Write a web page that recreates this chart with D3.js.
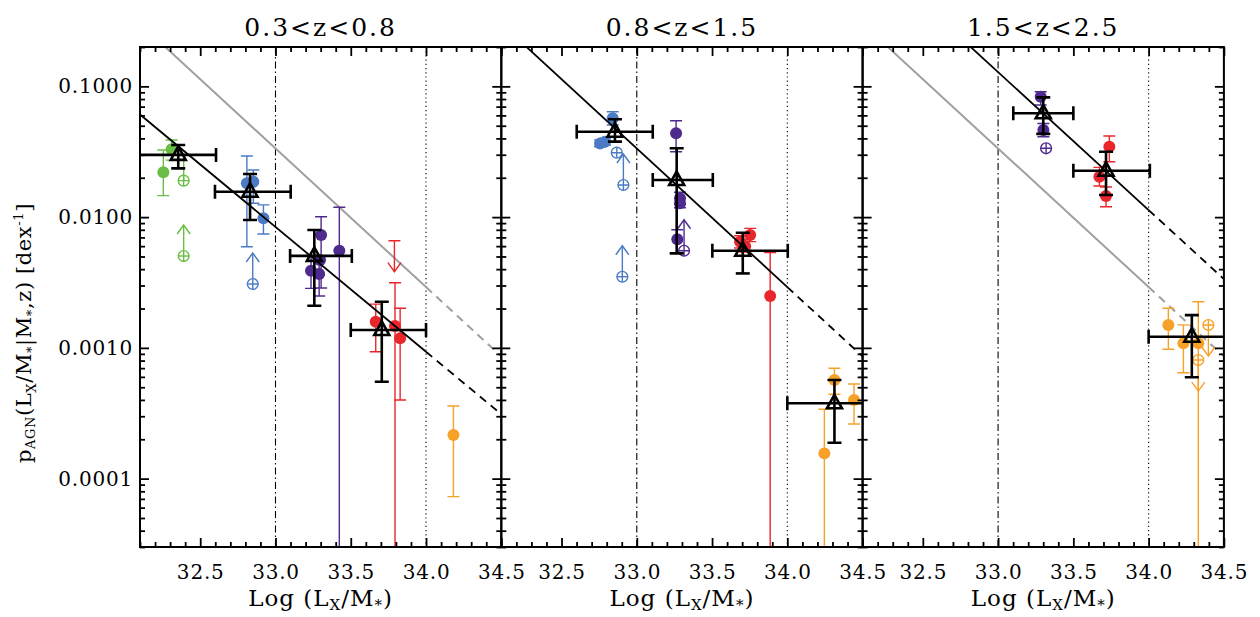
<!DOCTYPE html>
<html>
<head>
<meta charset="utf-8">
<script src="https://cdn.jsdelivr.net/npm/d3@7"></script>
<style>
  body { margin: 0; background: #fff; }
  text { font-family: "DejaVu Serif", serif; fill: #000; }
</style>
</head>
<body>
<svg id="chart" width="1260" height="617"></svg>
<script>
// ---- data ----
const panelTitles = ["0.3<z<0.8", "0.8<z<1.5", "1.5<z<2.5"];
const xTickValues = [32.5, 33.0, 33.5, 34.0, 34.5];
const yTickValues = [0.0001, 0.001, 0.01, 0.1];
const refLines = [33.0, 34.0];          // dash-dot, dotted

// power-law fits: log p = norm + slope*(Log(Lx/M*) - 34)
const fitNorm = [-3.03, -2.535, -1.946];
const fitSlope = [-0.955, -1.06, -1.055];
const refFit = 1;                        // middle-panel fit repeated in grey

// binned estimates: [x, xlo, xhi, p, plo, phi]
const binsLowZ = [
  [32.354, 32.08, 32.605, 0.0299, 0.0236, 0.0356],
  [32.831, 32.598, 33.101, 0.01564, 0.00951, 0.02138],
  [33.258, 33.097, 33.507, 0.00505, 0.0021, 0.00796],
  [33.706, 33.5, 34.0, 0.00137, 0.000551, 0.002254]
];
const binsMidZ = [
  [32.855, 32.601, 33.106, 0.0450, 0.0378, 0.0560],
  [33.265, 33.106, 33.505, 0.01922, 0.00528, 0.0336],
  [33.704, 33.502, 34.003, 0.00553, 0.00371, 0.0076],
  [34.313, 34.0, 34.6, 0.000377, 0.000188, 0.000568]
];
const binsHighZ = [
  [33.3, 33.101, 33.5, 0.0622, 0.0433, 0.0824],
  [33.717, 33.5, 34.008, 0.02265, 0.01476, 0.0316],
  [34.287, 34.0, 34.6, 0.001217, 0.000596, 0.00178]
];

// mass-bin points: [x, p, plo, phi, kind]
// kind: d = detection, o = open, L = lower limit, U = upper limit (open), u = upper limit bar
const green1 = [
  [32.31, 0.0330, 0.0273, 0.0389, "d"],
  [32.255, 0.0220, 0.0146, 0.0326, "d"],
  [32.39, 0.0190, 0.0190, 0.0300, "o"],
  [32.39, 0.00504, 0.00504, 0.00504, "L"]
];
const blue1 = [
  [32.81, 0.01815, 0.00594, 0.0293, "d"],
  [32.853, 0.01866, 0.01277, 0.0229, "d"],
  [32.92, 0.0098, 0.00743, 0.0124, "d"],
  [32.849, 0.00308, 0.00308, 0.00308, "L"]
];
const purple1 = [
  [33.303, 0.0073, 0.00287, 0.01007, "d"],
  [33.424, 0.00553, 1e-6, 0.0119, "d"],
  [33.296, 0.0047, 0.0047, 0.0047, "d"],
  [33.236, 0.00389, 0.00285, 0.0051, "d"],
  [33.29, 0.00367, 0.00249, 0.0047, "d"]
];
const red1 = [
  [33.666, 0.001585, 0.000935, 0.00216, "d"],
  [33.794, 0.001469, 1e-6, 0.00315, "d"],
  [33.828, 0.001183, 0.000399, 0.00201, "d"],
  [33.79, 0.0066, 0.0066, 0.0066, "u"]
];
const orange1 = [
  [34.182, 0.000216, 0.0000728, 0.000359, "d"]
];
const blue2 = [
  [32.84, 0.0570, 0.0506, 0.0640, "d"],
  [32.789, 0.03774, 0.0356, 0.0400, "d"],
  [32.756, 0.0366, 0.0345, 0.0390, "d"],
  [32.867, 0.0311, 0.0311, 0.0311, "o"],
  [32.911, 0.0176, 0.0176, 0.0176, "L"],
  [32.904, 0.0035, 0.0035, 0.0035, "L"]
];
const purple2 = [
  [33.261, 0.04375, 0.0316, 0.0546, "d"],
  [33.287, 0.01393, 0.0125, 0.0155, "d"],
  [33.287, 0.01274, 0.0118, 0.0140, "d"],
  [33.269, 0.00676, 0.00528, 0.0080, "d"],
  [33.314, 0.00553, 0.00553, 0.00553, "L"]
];
const red2 = [
  [33.753, 0.00729, 0.0065, 0.0082, "d"],
  [33.686, 0.00648, 0.0058, 0.0072, "d"],
  [33.72, 0.0060, 0.0054, 0.0067, "d"],
  [33.886, 0.00249, 1e-6, 0.00535, "d"]
];
const orange2 = [
  [34.313, 0.000568, 0.000442, 0.000698, "d"],
  [34.443, 0.000399, 0.000262, 0.00053, "d"],
  [34.246, 0.000156, 1e-6, 0.000339, "d"]
];
const purple3 = [
  [33.283, 0.0834, 0.072, 0.0910, "d"],
  [33.301, 0.0464, 0.0412, 0.052, "d"],
  [33.319, 0.0336, 0.0336, 0.0336, "o"]
];
const red3 = [
  [33.739, 0.03455, 0.0265, 0.0417, "d"],
  [33.673, 0.02037, 0.0173, 0.0240, "d"],
  [33.717, 0.0145, 0.0120, 0.0170, "d"]
];
const orange3 = [
  [34.131, 0.001496, 0.000975, 0.00201, "d"],
  [34.231, 0.001084, 0.000646, 0.0015, "d"],
  [34.33, 0.001084, 1e-6, 0.002254, "d"],
  [34.397, 0.001496, 0.001496, 0.001496, "U"],
  [34.33, 0.000807, 0.000807, 0.000807, "U"]
];

const colors = {
  green: "#6abd45", blue: "#4a7bc4", purple: "#4f2a8e",
  red: "#e8262b", orange: "#f7a128"
};

const panels = [
  { bins: binsLowZ, samples: [["green", green1], ["blue", blue1], ["purple", purple1], ["red", red1], ["orange", orange1]] },
  { bins: binsMidZ, samples: [["blue", blue2], ["purple", purple2], ["red", red2], ["orange", orange2]] },
  { bins: binsHighZ, samples: [["purple", purple3], ["red", red3], ["orange", orange3]] }
];

// ---- layout ----
const mLeft = 140, mTop = 47, pw = 361.3, ph = 500;

const x = d3.scaleLinear().domain([32.1, 34.5]).range([0, pw]);
const y = d3.scaleLog().domain([3e-5, 0.2]).range([ph, 0]);

const svg = d3.select("#chart");

const xMajor = xTickValues;
const xMinor = x.ticks(24).filter(v => Math.abs(v * 2 - Math.round(v * 2)) > 1e-6);
const yMinor = y.ticks().filter(v => Math.abs(Math.log10(v) - Math.round(Math.log10(v))) > 1e-6);

const fitP = (k, lx) => Math.pow(10, fitNorm[k] + fitSlope[k] * (lx - 34));

function drawFit(g, k, color, width) {
  const line = d3.line().x(d => x(d)).y(d => y(fitP(k, d)));
  g.append("path").attr("d", line([32.1, 34.0]))
    .attr("fill", "none").attr("stroke", color).attr("stroke-width", width);
  g.append("path").attr("d", line([34.0, 34.5]))
    .attr("fill", "none").attr("stroke", color).attr("stroke-width", width)
    .attr("stroke-dasharray", "8,6");
}

function chevron(g, cx, cy, dir) {
  // dir = -1 points up, +1 points down
  g.append("path")
    .attr("d", `M${cx - 6.5},${cy - dir * 9}L${cx},${cy}L${cx + 6.5},${cy - dir * 9}`);
}

function drawSample(g, rows, color) {
  rows.forEach(r => {
    const [lx, p, lo, hi, kind] = r;
    const cx = x(lx), cy = y(p);
    const s = g.append("g").attr("stroke", color).attr("fill", "none").attr("stroke-width", 1.4);
    if (lo < hi) {
      s.append("line").attr("x1", cx).attr("x2", cx).attr("y1", y(lo)).attr("y2", y(hi));
      if (hi > p) s.append("line").attr("x1", cx - 6).attr("x2", cx + 6).attr("y1", y(hi)).attr("y2", y(hi));
      if (lo < p) s.append("line").attr("x1", cx - 6).attr("x2", cx + 6).attr("y1", y(lo)).attr("y2", y(lo));
    }
    if (kind === "d") {
      s.append("circle").attr("cx", cx).attr("cy", cy).attr("r", 6)
        .attr("fill", color).attr("stroke", "none");
    }
    if (kind === "o" || kind === "L" || kind === "U") {
      s.append("circle").attr("cx", cx).attr("cy", cy).attr("r", 5.4);
      s.append("line").attr("x1", cx - 5.4).attr("x2", cx + 5.4).attr("y1", cy).attr("y2", cy);
      s.append("line").attr("x1", cx).attr("x2", cx).attr("y1", cy - 5.4).attr("y2", cy + 5.4);
    }
    if (kind === "L") {
      s.append("line").attr("x1", cx).attr("x2", cx).attr("y1", cy - 5.4).attr("y2", cy - 31);
      chevron(s, cx, cy - 31, -1);
    }
    if (kind === "U") {
      s.append("line").attr("x1", cx).attr("x2", cx).attr("y1", cy + 5.4).attr("y2", cy + 31);
      chevron(s, cx, cy + 31, 1);
    }
    if (kind === "u") {
      s.append("line").attr("x1", cx - 6).attr("x2", cx + 6).attr("y1", cy).attr("y2", cy);
      s.append("line").attr("x1", cx).attr("x2", cx).attr("y1", cy).attr("y2", cy + 31);
      chevron(s, cx, cy + 31, 1);
    }
  });
}

function drawBins(g, rows) {
  rows.forEach(([lx, xlo, xhi, p, plo, phi]) => {
    const b = g.append("g").attr("stroke", "#000").attr("stroke-width", 2.6).attr("fill", "none");
    const cx = x(lx), cy = y(p);
    b.append("line").attr("x1", x(xlo)).attr("x2", x(xhi)).attr("y1", cy).attr("y2", cy);
    b.append("line").attr("x1", x(xlo)).attr("x2", x(xlo)).attr("y1", cy - 7).attr("y2", cy + 7);
    b.append("line").attr("x1", x(xhi)).attr("x2", x(xhi)).attr("y1", cy - 7).attr("y2", cy + 7);
    b.append("line").attr("x1", cx).attr("x2", cx).attr("y1", y(plo)).attr("y2", y(phi));
    b.append("line").attr("x1", cx - 7).attr("x2", cx + 7).attr("y1", y(plo)).attr("y2", y(plo));
    b.append("line").attr("x1", cx - 7).attr("x2", cx + 7).attr("y1", y(phi)).attr("y2", y(phi));
    b.append("path").attr("d", `M${cx},${cy - 8.5}L${cx + 7.5},${cy + 5}L${cx - 7.5},${cy + 5}Z`);
  });
}

function styleAxis(sel) {
  sel.select(".domain").remove();
  sel.selectAll(".tick line").attr("stroke", "#000").attr("stroke-width", 1.8);
  sel.attr("font-family", null).attr("font-size", null);
  sel.selectAll("text").attr("font-size", 20).attr("letter-spacing", 0.8).attr("fill", "#000");
}

panels.forEach((panel, i) => {
  const g = svg.append("g").attr("transform", `translate(${mLeft + i * pw},${mTop})`);

  svg.append("clipPath").attr("id", "clip" + i)
    .append("rect").attr("width", pw).attr("height", ph);
  const body = g.append("g").attr("clip-path", `url(#clip${i})`);

  // reference verticals
  body.append("line").attr("x1", x(refLines[0])).attr("x2", x(refLines[0]))
    .attr("y1", 0).attr("y2", ph).attr("stroke", "#000").attr("stroke-width", 1.1)
    .attr("stroke-dasharray", "7,3,1.5,3");
  body.append("line").attr("x1", x(refLines[1])).attr("x2", x(refLines[1]))
    .attr("y1", 0).attr("y2", ph).attr("stroke", "#000").attr("stroke-width", 1.1)
    .attr("stroke-dasharray", "1.2,3");

  if (i !== refFit) drawFit(body, refFit, "#a0a0a0", 2);

  panel.samples.forEach(([key, rows]) => drawSample(body, rows, colors[key]));

  drawFit(body, i, "#000", 1.8);

  drawBins(body, panel.bins);

  // axes
  g.append("g").attr("transform", `translate(0,${ph})`)
    .call(d3.axisBottom(x).tickValues(xMajor).tickSize(-9).tickPadding(18).tickFormat(d3.format(".1f")))
    .call(styleAxis);
  g.append("g").attr("transform", `translate(0,${ph})`)
    .call(d3.axisBottom(x).tickValues(xMinor).tickSize(-5).tickFormat(""))
    .call(styleAxis);
  g.append("g")
    .call(d3.axisTop(x).tickValues(xMajor).tickSize(-9).tickFormat(""))
    .call(styleAxis);
  g.append("g")
    .call(d3.axisTop(x).tickValues(xMinor).tickSize(-5).tickFormat(""))
    .call(styleAxis);
  g.append("g")
    .call(d3.axisLeft(y).tickValues(yTickValues).tickSize(-9).tickPadding(7)
      .tickFormat(i === 0 ? d3.format(".4f") : ""))
    .call(styleAxis);
  g.append("g")
    .call(d3.axisLeft(y).tickValues(yMinor).tickSize(-5).tickFormat(""))
    .call(styleAxis);
  g.append("g").attr("transform", `translate(${pw},0)`)
    .call(d3.axisRight(y).tickValues(yTickValues).tickSize(-9).tickFormat(""))
    .call(styleAxis);
  g.append("g").attr("transform", `translate(${pw},0)`)
    .call(d3.axisRight(y).tickValues(yMinor).tickSize(-5).tickFormat(""))
    .call(styleAxis);

  g.append("rect").attr("width", pw).attr("height", ph)
    .attr("fill", "none").attr("stroke", "#000").attr("stroke-width", 2);

  // panel title
  g.append("text").attr("x", pw / 2).attr("y", -11)
    .attr("text-anchor", "middle").attr("font-size", 25).attr("letter-spacing", 2)
    .text(panelTitles[i]);

  // x label
  const xl = g.append("text").attr("x", pw / 2).attr("y", ph + 59)
    .attr("text-anchor", "middle").attr("font-size", 23).attr("letter-spacing", 1);
  xl.append("tspan").text("Log (L");
  xl.append("tspan").attr("font-size", 15).attr("dy", 4).text("X");
  xl.append("tspan").attr("dy", -4).text("/M");
  xl.append("tspan").attr("font-size", 15).attr("dy", 4).text("*");
  xl.append("tspan").attr("dy", -4).text(")");
});

// y label
const yl = svg.append("text").attr("transform", "translate(31,333) rotate(-90)")
  .attr("text-anchor", "middle").attr("font-size", 21).attr("letter-spacing", 0.6);
yl.append("tspan").text("p");
yl.append("tspan").attr("font-size", 13).attr("dy", 4).text("AGN");
yl.append("tspan").attr("dy", -4).text("(L");
yl.append("tspan").attr("font-size", 13).attr("dy", 5).text("X");
yl.append("tspan").attr("dy", -5).text("/M");
yl.append("tspan").attr("font-size", 13).attr("dy", 5).text("*");
yl.append("tspan").attr("dy", -5).text("|M");
yl.append("tspan").attr("font-size", 13).attr("dy", 5).text("*");
yl.append("tspan").attr("dy", -5).text(",z)  [dex");
yl.append("tspan").attr("font-size", 13).attr("dy", -8).text("-1");
yl.append("tspan").attr("dy", 8).text("]");
</script>
</body>
</html>
